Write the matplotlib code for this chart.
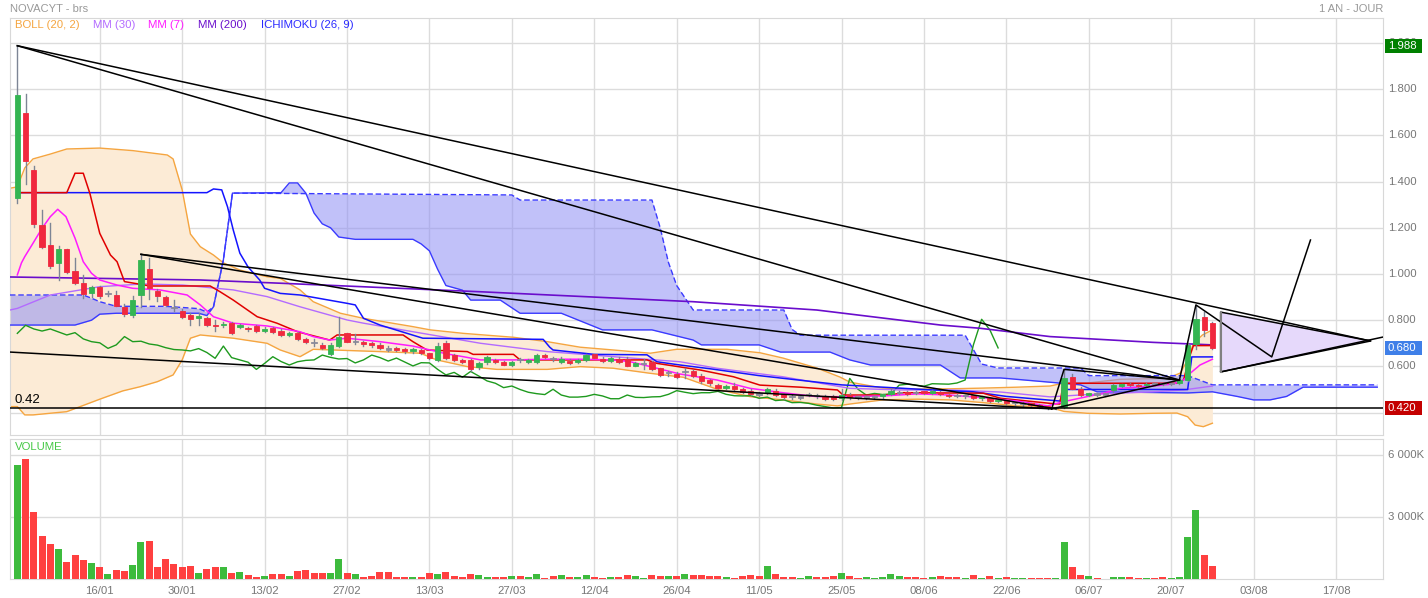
import numpy as np
import matplotlib.pyplot as plt
from matplotlib.patches import Rectangle, Polygon

plt.rcParams['font.family'] = ['Liberation Sans', 'DejaVu Sans']

# daily candles, session index 0..145
opens = [1.328, 1.696, 1.450, 1.212, 1.125, 1.049, 1.107, 1.013, 0.960, 0.916,
         0.945, 0.914, 0.909, 0.858, 0.823, 0.909, 1.022, 0.928, 0.899, 0.856,
         0.840, 0.823, 0.810, 0.808, 0.780, 0.779, 0.786, 0.772, 0.768, 0.776,
         0.753, 0.767, 0.753, 0.736, 0.746, 0.719, 0.706, 0.693, 0.652, 0.690,
         0.743, 0.705, 0.704, 0.701, 0.693, 0.677, 0.679, 0.675, 0.667, 0.671,
         0.657, 0.628, 0.700, 0.649, 0.628, 0.628, 0.599, 0.618, 0.628, 0.617,
         0.606, 0.630, 0.618, 0.618, 0.649, 0.636, 0.618, 0.625, 0.619, 0.628,
         0.652, 0.634, 0.623, 0.634, 0.632, 0.602, 0.611, 0.618, 0.592, 0.570,
         0.566, 0.574, 0.580, 0.558, 0.541, 0.520, 0.505, 0.515, 0.500, 0.495,
         0.482, 0.486, 0.495, 0.479, 0.472, 0.465, 0.475, 0.476, 0.472, 0.470,
         0.462, 0.476, 0.468, 0.465, 0.466, 0.470, 0.479, 0.485, 0.488, 0.490,
         0.492, 0.486, 0.491, 0.478, 0.476, 0.470, 0.474, 0.462, 0.462, 0.450,
         0.453, 0.440, 0.436, 0.440, 0.434, 0.428, 0.418, 0.423, 0.555, 0.502,
         0.476, 0.480, 0.478, 0.498, 0.515, 0.525, 0.519, 0.519, 0.527, 0.527,
         0.525, 0.528, 0.541, 0.697, 0.815, 0.787]
highs = [1.988, 1.780, 1.468, 1.277, 1.219, 1.121, 1.110, 1.070, 0.996, 0.950,
         0.950, 0.925, 0.925, 0.872, 0.903, 1.085, 1.068, 0.935, 0.905, 0.887,
         0.850, 0.830, 0.830, 0.815, 0.800, 0.790, 0.790, 0.785, 0.770, 0.780,
         0.770, 0.772, 0.760, 0.750, 0.750, 0.725, 0.720, 0.700, 0.700, 0.813,
         0.745, 0.740, 0.710, 0.705, 0.700, 0.690, 0.685, 0.680, 0.680, 0.675,
         0.660, 0.700, 0.710, 0.655, 0.630, 0.630, 0.620, 0.645, 0.632, 0.625,
         0.625, 0.635, 0.632, 0.652, 0.652, 0.640, 0.640, 0.630, 0.630, 0.652,
         0.655, 0.640, 0.640, 0.640, 0.640, 0.620, 0.630, 0.625, 0.595, 0.580,
         0.575, 0.595, 0.585, 0.565, 0.545, 0.525, 0.520, 0.530, 0.505, 0.500,
         0.490, 0.505, 0.500, 0.482, 0.478, 0.475, 0.485, 0.480, 0.478, 0.475,
         0.500, 0.485, 0.472, 0.472, 0.472, 0.482, 0.500, 0.495, 0.492, 0.495,
         0.495, 0.497, 0.495, 0.482, 0.480, 0.478, 0.478, 0.470, 0.465, 0.458,
         0.456, 0.448, 0.445, 0.443, 0.437, 0.430, 0.425, 0.587, 0.565, 0.510,
         0.485, 0.485, 0.485, 0.525, 0.525, 0.530, 0.525, 0.530, 0.530, 0.530,
         0.530, 0.545, 0.700, 0.866, 0.836, 0.790]
lows = [1.309, 1.390, 1.205, 1.113, 1.026, 0.974, 1.005, 0.955, 0.896, 0.900,
        0.895, 0.905, 0.860, 0.820, 0.813, 0.858, 0.890, 0.884, 0.860, 0.840,
        0.810, 0.780, 0.780, 0.775, 0.755, 0.770, 0.740, 0.765, 0.755, 0.750,
        0.750, 0.745, 0.730, 0.730, 0.715, 0.700, 0.690, 0.675, 0.648, 0.685,
        0.705, 0.695, 0.690, 0.685, 0.675, 0.665, 0.665, 0.660, 0.660, 0.655,
        0.630, 0.625, 0.630, 0.625, 0.615, 0.580, 0.590, 0.610, 0.615, 0.605,
        0.600, 0.620, 0.615, 0.615, 0.635, 0.625, 0.615, 0.610, 0.615, 0.625,
        0.635, 0.620, 0.620, 0.615, 0.600, 0.600, 0.590, 0.585, 0.560, 0.560,
        0.550, 0.550, 0.555, 0.530, 0.520, 0.500, 0.500, 0.495, 0.485, 0.478,
        0.470, 0.480, 0.470, 0.460, 0.460, 0.460, 0.470, 0.465, 0.455, 0.455,
        0.455, 0.460, 0.460, 0.460, 0.460, 0.465, 0.475, 0.480, 0.478, 0.480,
        0.482, 0.482, 0.475, 0.468, 0.468, 0.465, 0.458, 0.455, 0.448, 0.445,
        0.438, 0.435, 0.430, 0.428, 0.422, 0.416, 0.416, 0.418, 0.500, 0.470,
        0.470, 0.470, 0.470, 0.490, 0.510, 0.515, 0.510, 0.515, 0.520, 0.520,
        0.520, 0.525, 0.535, 0.675, 0.730, 0.675]
closes = [1.775, 1.489, 1.215, 1.116, 1.035, 1.107, 1.010, 0.962, 0.912, 0.942,
          0.906, 0.918, 0.863, 0.826, 0.887, 1.061, 0.938, 0.905, 0.866, 0.852,
          0.815, 0.805, 0.818, 0.779, 0.774, 0.784, 0.743, 0.778, 0.762, 0.753,
          0.762, 0.749, 0.736, 0.746, 0.719, 0.707, 0.702, 0.678, 0.693, 0.729,
          0.707, 0.709, 0.697, 0.692, 0.681, 0.673, 0.671, 0.667, 0.677, 0.660,
          0.635, 0.688, 0.638, 0.628, 0.618, 0.587, 0.613, 0.642, 0.621, 0.606,
          0.620, 0.626, 0.628, 0.649, 0.639, 0.632, 0.634, 0.615, 0.628, 0.649,
          0.638, 0.623, 0.636, 0.619, 0.602, 0.616, 0.615, 0.587, 0.563, 0.574,
          0.553, 0.578, 0.558, 0.537, 0.527, 0.508, 0.515, 0.500, 0.488, 0.482,
          0.478, 0.501, 0.476, 0.467, 0.467, 0.470, 0.479, 0.472, 0.460, 0.460,
          0.476, 0.466, 0.465, 0.468, 0.469, 0.479, 0.495, 0.488, 0.482, 0.486,
          0.486, 0.492, 0.479, 0.473, 0.472, 0.473, 0.462, 0.467, 0.452, 0.455,
          0.443, 0.444, 0.440, 0.432, 0.426, 0.420, 0.422, 0.548, 0.501, 0.476,
          0.483, 0.478, 0.481, 0.519, 0.523, 0.519, 0.514, 0.525, 0.524, 0.523,
          0.528, 0.541, 0.693, 0.804, 0.758, 0.680]
# volume in thousands of shares
volumes = [5500, 5800, 3230, 2080, 1690, 1450, 820, 1160, 920, 790,
           600, 230, 440, 400, 690, 1780, 1840, 580, 950, 710,
           580, 630, 310, 470, 580, 580, 270, 340, 190, 110,
           130, 230, 240, 145, 370, 420, 290, 270, 270, 950,
           300, 230, 100, 160, 320, 350, 100, 100, 100, 110,
           290, 240, 340, 130, 100, 240, 190, 100, 100, 100,
           145, 160, 100, 240, 65, 145, 190, 100, 100, 190,
           80, 65, 80, 100, 190, 130, 65, 210, 145, 145,
           145, 240, 190, 190, 130, 130, 100, 65, 130, 190,
           130, 630, 225, 110, 110, 65, 130, 80, 100, 145,
           270, 130, 50, 80, 50, 100, 225, 130, 80, 80,
           50, 100, 145, 100, 110, 50, 175, 50, 130, 65,
           110, 50, 65, 30, 50, 50, 30, 1775, 600, 180,
           160, 30, 20, 80, 80, 80, 30, 65, 65, 80,
           30, 110, 2050, 3340, 1180, 645]

date_labels = ['16/01', '30/01', '13/02', '27/02', '13/03', '27/03', '12/04', '26/04',
               '11/05', '25/05', '08/06', '22/06', '06/07', '20/07', '03/08', '17/08']
date_pos = list(range(10, 170, 10))

# indicator lines as (session, value)
boll_up_x = [-0.9, 0, 0.9, 1.9, 4, 6, 10, 14, 18.2, 18.9, 20, 21, 22.2, 23.8, 25, 27,
             30.3, 31.9, 34.3, 35.9, 39.2, 42, 48, 50.1, 54.1, 60.2, 64.3, 68.3, 72.3,
             76.8, 80, 86.1, 90.1, 92.9, 97, 99.8, 101, 105, 109.2, 113.2, 117.2, 121.3,
             125.3, 126.9, 129.8, 133.8, 139.5, 141.1, 142, 142.7, 143.8, 145]
boll_up_y = [1.371, 1.377, 1.459, 1.498, 1.519, 1.541, 1.545, 1.534, 1.515, 1.498, 1.364,
             1.173, 1.118, 1.082, 1.048, 1.017, 0.988, 0.981, 0.931, 0.880, 0.830, 0.808,
             0.772, 0.758, 0.743, 0.726, 0.707, 0.683, 0.671, 0.657, 0.674, 0.674, 0.659,
             0.636, 0.593, 0.554, 0.532, 0.506, 0.502, 0.503, 0.506, 0.510, 0.515, 0.527,
             0.528, 0.544, 0.548, 0.571, 0.628, 0.700, 0.736, 0.758]
boll_lo_x = [-0.9, 0, 0.9, 1.9, 6, 10, 12.8, 14.9, 17, 18.9, 20, 21, 22.2, 26.2, 30.3,
             31.9, 34.3, 35.9, 44, 48.9, 50.9, 54.6, 58.2, 64.3, 68.3, 72.3, 76.8, 80.8,
             84.9, 88.9, 92.9, 97, 99.5, 101, 105, 109.2, 113.2, 117.2, 121.3, 125, 127,
             129.8, 133.8, 137.8, 140.7, 142, 142.9, 143.9, 145]
boll_lo_y = [0.426, 0.426, 0.390, 0.390, 0.404, 0.458, 0.494, 0.512, 0.534, 0.563, 0.628,
             0.722, 0.736, 0.722, 0.700, 0.671, 0.642, 0.674, 0.664, 0.657, 0.628, 0.599,
             0.587, 0.587, 0.599, 0.592, 0.570, 0.553, 0.501, 0.469, 0.455, 0.437, 0.429,
             0.437, 0.455, 0.458, 0.455, 0.443, 0.429, 0.426, 0.405, 0.397, 0.394, 0.397,
             0.398, 0.382, 0.346, 0.339, 0.354]

mm7_x = [0, 0.5, 0.9, 1.9, 3, 4, 4.9, 5.9, 7, 8, 9, 10, 12.1, 14, 17.3, 20.6, 22.2, 23.8,
         26.2, 30.3, 34.3, 35.9, 37.9, 40, 44, 48, 50.1, 52.1, 54.1, 56.2, 60.2, 64.3,
         68.3, 72.3, 74.4, 76.8, 80.4, 84.9, 88.9, 92.9, 97, 101, 105, 109.2, 113.2,
         117.2, 121.3, 125, 126.9, 129.8, 131.8, 133.8, 137.8, 140.3, 141.5, 142.3,
         143.5, 145]
mm7_y = [0.996, 1.048, 1.075, 1.133, 1.198, 1.248, 1.280, 1.248, 1.155, 1.053, 1.003,
         0.974, 0.952, 0.938, 0.931, 0.909, 0.866, 0.815, 0.787, 0.775, 0.750, 0.729,
         0.714, 0.722, 0.707, 0.688, 0.671, 0.654, 0.642, 0.628, 0.628, 0.631, 0.631,
         0.628, 0.620, 0.599, 0.567, 0.541, 0.505, 0.486, 0.469, 0.469, 0.472, 0.481,
         0.476, 0.464, 0.450, 0.429, 0.447, 0.469, 0.484, 0.505, 0.515, 0.524, 0.541,
         0.570, 0.606, 0.631]

mm30_x = [-0.9, 0, 4, 10, 15.3, 20.1, 26.2, 30.3, 34.3, 40, 42, 48, 56.2, 64.3, 72.3,
          80.4, 84.9, 92.9, 101, 107.1, 113.2, 119.3, 125.3, 129.8, 137.8, 141.5, 145]
mm30_y = [0.844, 0.851, 0.909, 0.945, 0.957, 0.952, 0.931, 0.902, 0.858, 0.801, 0.787,
          0.750, 0.700, 0.664, 0.642, 0.620, 0.592, 0.555, 0.505, 0.498, 0.498, 0.489,
          0.468, 0.478, 0.490, 0.498, 0.515]

mm200_x = [-0.9, 22.2, 31.9, 56.2, 82, 97, 112, 116.8, 125.3, 137.8, 145]
mm200_y = [0.987, 0.974, 0.960, 0.923, 0.880, 0.844, 0.779, 0.765, 0.729, 0.704, 0.693]

tenkan_x = [0, 6, 7, 8, 8.8, 10, 11.3, 12.1, 13, 16.1, 23.4, 24.6, 26.2, 29.1, 31.5, 34,
            37.9, 38.8, 46.8, 48, 49.7, 54.6, 55.3, 60.2, 61, 76.4, 77.6, 82.9, 86.9,
            90.1, 95, 99.5, 100.2, 105.9, 107.5, 117.2, 119.3, 125.3, 126.5, 126.9,
            140.7, 141.5, 142.3, 142.7, 145]
tenkan_y = [1.352, 1.352, 1.436, 1.436, 1.349, 1.176, 1.082, 1.053, 0.967, 0.948, 0.948,
            0.923, 0.887, 0.815, 0.787, 0.750, 0.714, 0.736, 0.736, 0.707, 0.671, 0.664,
            0.652, 0.652, 0.628, 0.628, 0.613, 0.584, 0.555, 0.519, 0.510, 0.498, 0.476,
            0.476, 0.486, 0.484, 0.462, 0.440, 0.437, 0.527, 0.527, 0.541, 0.649, 0.690,
            0.690]

kijun_x = [0, 23, 23.8, 24.8, 25.5, 26.2, 27, 28, 29.4, 30, 31.9, 34.3, 40, 41, 42, 44,
           49.2, 63.8, 64.6, 65, 70, 76.4, 77.6, 80.4, 84, 90, 95, 100, 105, 110, 116,
           120, 126.5, 127, 142, 142.5, 145]
kijun_y = [1.352, 1.352, 1.368, 1.364, 1.291, 1.190, 1.090, 1.030, 0.974, 0.938, 0.916,
           0.909, 0.873, 0.866, 0.808, 0.779, 0.722, 0.717, 0.683, 0.671, 0.652, 0.650,
           0.620, 0.606, 0.590, 0.560, 0.540, 0.520, 0.510, 0.500, 0.490, 0.470, 0.450,
           0.500, 0.500, 0.641, 0.641]

span_a_x = [-0.9, 7, 9, 10, 12, 22, 23, 23.8, 25, 26.1, 32, 33, 34, 35, 36, 37, 38, 39,
            41, 48, 49, 50, 51, 52, 54, 55, 58.6, 61, 66, 71, 77, 82, 83, 90, 92.6,
            98.6, 101, 103.5, 112, 114.4, 119.3, 129, 131, 142, 145, 148, 150, 152, 154,
            156, 165]
span_a_y = [0.779, 0.779, 0.800, 0.826, 0.830, 0.830, 0.820, 0.858, 1.061, 1.350, 1.352,
            1.394, 1.394, 1.350, 1.264, 1.217, 1.200, 1.160, 1.150, 1.150, 1.130, 1.100,
            1.020, 0.950, 0.930, 0.887, 0.887, 0.830, 0.830, 0.758, 0.758, 0.714, 0.693,
            0.693, 0.662, 0.662, 0.628, 0.606, 0.606, 0.550, 0.550, 0.520, 0.490, 0.485,
            0.490, 0.470, 0.455, 0.455, 0.470, 0.510, 0.510]
span_b_x = [-0.9, 8, 9, 10, 12, 18, 22, 23, 23.8, 25, 26.1, 60, 61, 77, 78, 79, 80, 82,
            93, 94, 95, 115, 117, 119, 129, 130, 142, 145, 165]
span_b_y = [0.909, 0.909, 0.895, 0.880, 0.860, 0.860, 0.850, 0.835, 0.858, 1.061, 1.350,
            1.342, 1.320, 1.320, 1.200, 1.050, 0.950, 0.844, 0.844, 0.760, 0.735, 0.735,
            0.610, 0.593, 0.593, 0.560, 0.560, 0.520, 0.520]

# hand-drawn trend lines (session, price) pairs
trend_lines = [
    [(0, 1.988), (164.2, 0.710)],
    [(0, 1.988), (141, 0.541)],
    [(15, 1.085), (141, 0.541)],
    [(15, 1.085), (126, 0.416)],
    [(-0.9, 0.662), (125.5, 0.416)],
    [(125.5, 0.416), (127, 0.587), (141, 0.541)],
    [(125.5, 0.416), (141, 0.541), (143, 0.866), (152.2, 0.641), (156.9, 1.147)],
    [(146, 0.576), (165.7, 0.727)],
]
triangle = [(146, 0.835), (146, 0.576), (164.2, 0.710)]

support = 0.42
last_close = closes[-1]
top_high = highs[0]

# ---------------------------------------------------------------
W, H = 1428, 598
fig = plt.figure(figsize=(W / 100, H / 100), dpi=100)
L, R = 10, 1383
YMIN, YMAX = 0.303, 2.108
ax = fig.add_axes([L / W, 1 - 435 / H, (R - L) / W, 417 / H])
axv = fig.add_axes([L / W, 1 - 579 / H, (R - L) / W, 140 / H])

xmin, xmax = -0.89, 165.7
grid_c = '#dcdcdc'
for a in (ax, axv):
    a.set_xlim(xmin, xmax)
    a.set_xticks(date_pos)
    a.tick_params(length=0, labelleft=False, labelbottom=False)
    a.grid(True, color=grid_c, lw=1)
    a.set_axisbelow(True)
    for s in a.spines.values():
        s.set_color('#d8d8d8')
ax.set_ylim(YMIN, YMAX)
ax.set_yticks(np.arange(0.4, 2.01, 0.2))
axv.set_ylim(0, 6780)
axv.set_yticks([3000, 6000])

# Bollinger
bx = np.linspace(-0.9, 145, 600)
up = np.interp(bx, boll_up_x, boll_up_y)
lo = np.interp(bx, boll_lo_x, boll_lo_y)
ax.fill_between(bx, lo, up, color='#fcebd6', lw=0, zorder=1)
ax.plot(boll_up_x, boll_up_y, color='#f5a540', lw=1, zorder=2)
ax.plot(boll_lo_x, boll_lo_y, color='#f5a540', lw=1, zorder=2)

# Ichimoku cloud
cx = np.linspace(-0.9, 165, 900)
sa = np.interp(cx, span_a_x, span_a_y)
sb = np.interp(cx, span_b_x, span_b_y)
ax.fill_between(cx, sa, sb, color='#8e8ef5', alpha=0.55, lw=0, zorder=2)
ax.plot(span_a_x, span_a_y, color='#3a3aff', lw=1, zorder=3)
ax.plot(span_b_x, span_b_y, color='#3a3aff', lw=1, ls=(0, (4, 2)), zorder=3)

# chikou: closes drawn 26 sessions back
chik_x = np.arange(len(closes) - 26)
ax.plot(chik_x, closes[26:], color='#1e9a1e', lw=1, zorder=4)

ax.plot(mm200_x, mm200_y, color='#6a0dcc', lw=1.2, zorder=4)
ax.plot(mm30_x, mm30_y, color='#b36bff', lw=1, zorder=4)
ax.plot(kijun_x, kijun_y, color='#1414ff', lw=1.1, zorder=4)
ax.plot(tenkan_x, tenkan_y, color='#e00000', lw=1.1, zorder=4)
ax.plot(mm7_x, mm7_y, color='#ff1aff', lw=1.1, zorder=4)

# candles
up_c, dn_c, doji_c = '#34b552', '#f0283e', '#8a8a9a'
for i in range(len(closes)):
    o, h, l, c = opens[i], highs[i], lows[i], closes[i]
    ax.plot([i, i], [l, h], color='#7d8595', lw=1, zorder=5)
    if abs(c - o) < 0.005:
        col = doji_c
    else:
        col = up_c if c > o else dn_c
    b0 = min(o, c)
    bh = max(abs(c - o), 0.005)
    ax.add_patch(Rectangle((i - 0.32, b0), 0.64, bh, fc=col, ec=col, lw=0.6, zorder=6))

# trend lines
for pts in trend_lines:
    xs, ys = zip(*pts)
    ax.plot(xs, ys, color='black', lw=1.1, zorder=7)
ax.add_patch(Polygon(triangle, closed=True, fc='#e6d9fb', ec='black', lw=1.1, zorder=6))
ax.plot([146, 146], [0.576, 0.835], color='#808080', lw=1.5, zorder=7)

ax.axhline(support, color='black', lw=1.1, zorder=7)
ax.text(-0.3, support + 0.008, '0.42', fontsize=9.5, color='black', va='bottom', zorder=8)

# volume
vcols = ['#3dbb3d' if closes[i] >= opens[i] else '#ff4040' for i in range(len(volumes))]
axv.bar(range(len(volumes)), volumes, width=0.85, color=vcols, zorder=3)

# labels
grey = '#777777'
fs = 8.2
fig.text(10 / W, 1 - 9 / H, 'NOVACYT - brs', fontsize=8, color='#999999', va='center')
fig.text(R / W, 1 - 9 / H, '1 AN - JOUR', fontsize=8, color='#999999', va='center', ha='right')
legend = [('BOLL (20, 2)', '#f5a540', 15), ('MM (30)', '#b36bff', 93), ('MM (7)', '#ff1aff', 148),
          ('MM (200)', '#6a0dcc', 198), ('ICHIMOKU (26, 9)', '#2a2aff', 261)]
for txt, col, px in legend:
    fig.text(px / W, 1 - 25 / H, txt, fontsize=fs, color=col, va='center')
fig.text(15 / W, 1 - 447 / H, 'VOLUME', fontsize=fs, color='#45c845', va='center')


def fig_y(v):
    return 1 - 435 / H + (v - YMIN) / (YMAX - YMIN) * 417 / H


for v in np.arange(0.6, 2.01, 0.2):
    fig.text(1388 / W, fig_y(v), '%.3f' % v, fontsize=fs, color=grey, va='center', ha='left')
for v, t in [(3000, '3 000K'), (6000, '6 000K')]:
    fig.text(1388 / W, 1 - 579 / H + v / 6780 * 140 / H, t, fontsize=fs, color=grey,
             va='center', ha='left')
for p, t in zip(date_pos, date_labels):
    axv.text(p, -330, t, fontsize=fs, color=grey, ha='center', va='top', clip_on=False)

for v, t, bg in [(top_high, '1.988', '#008000'), (last_close, '0.680', '#3f7fe8'),
                 (support, '0.420', '#c40000')]:
    yc = fig_y(v)
    fig.add_artist(Rectangle((1385 / W, yc - 7 / H), 37 / W, 14 / H, fc=bg, ec='none',
                             transform=fig.transFigure, zorder=10))
    fig.text(1388 / W, yc, t, fontsize=fs, color='white', va='center', ha='left', zorder=11)

fig.savefig('out.png', dpi=100)
